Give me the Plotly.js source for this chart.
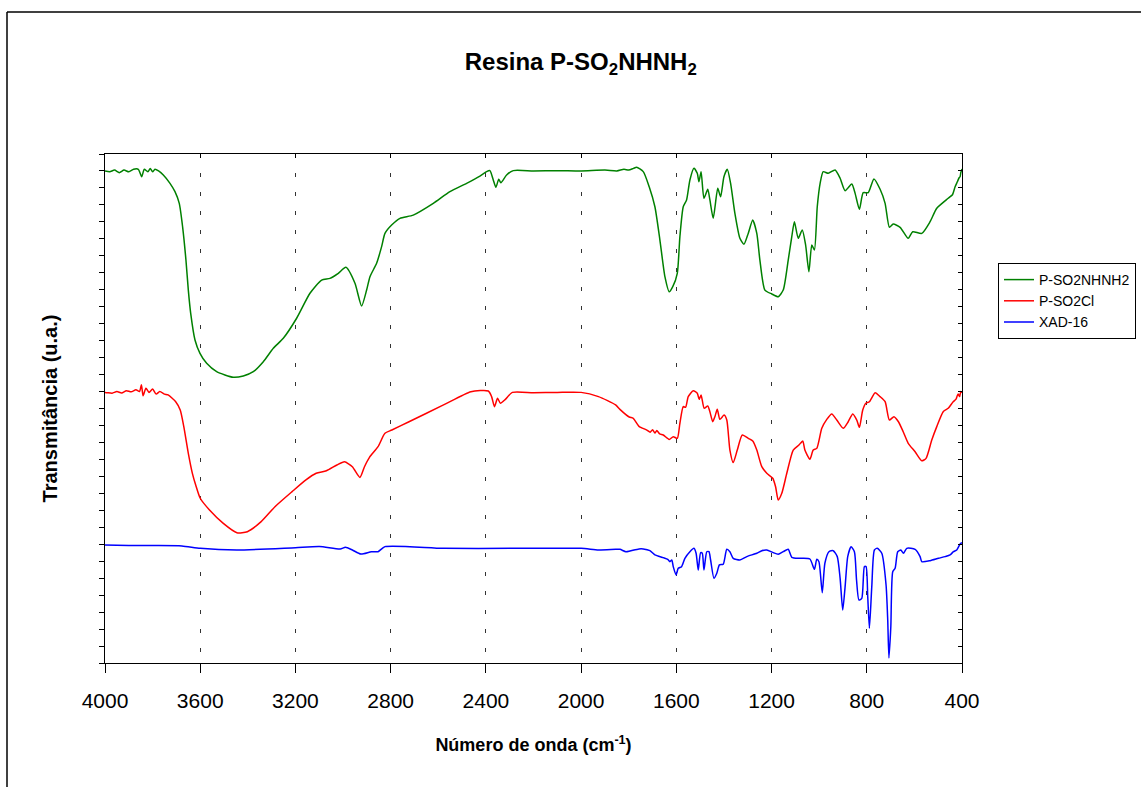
<!DOCTYPE html>
<html>
<head>
<meta charset="utf-8">
<script src="https://cdn.plot.ly/plotly-3.0.1.min.js"></script>
<style>
  html, body { margin: 0; padding: 0; background: #fff; }
  #chart { width: 1141px; height: 787px; }
</style>
</head>
<body>
<div id="chart"></div>
<script>
// FTIR spectra: [wavenumber (cm-1), transmittance (arbitrary, offset per sample)]
const pSO2NHNH2 = [
  [4000,29.00],[3980,28.95],[3960,29.05],[3940,28.90],[3920,29.05],[3900,28.95],[3880,29.10],[3860,29.10],
  [3846,28.66],[3835,29.10],[3820,28.95],[3810,29.15],[3800,28.95],[3790,29.10],[3775,29.00],[3755,28.76],
  [3727,28.27],[3706,27.78],[3688,27.09],[3674,25.71],[3660,23.75],[3650,21.98],[3640,20.61],[3622,19.04],
  [3601,18.25],[3573,17.66],[3531,17.17],[3461,16.84],[3419,16.92],[3377,17.17],[3335,17.76],[3293,18.55],
  [3251,19.14],[3195,20.32],[3139,21.79],[3090,22.57],[3055,22.67],[3020,22.97],[2988,23.32],[2950,22.38],
  [2922,21.04],[2901,21.98],[2887,22.77],[2859,23.56],[2838,24.54],[2824,25.32],[2796,25.81],[2761,26.21],
  [2705,26.40],[2621,27.09],[2551,27.78],[2481,28.27],[2425,28.70],[2397,28.96],[2383,29.02],[2369,28.47],
  [2358,28.04],[2346,28.51],[2337,28.31],[2313,28.76],[2285,29.02],[2200,29.00],[2100,29.02],[2000,29.00],
  [1900,29.05],[1850,29.00],[1820,29.10],[1800,29.05],[1780,29.15],[1767,29.22],[1739,28.96],[1714,28.07],
  [1690,26.89],[1669,24.93],[1648,22.77],[1630,21.88],[1615,22.18],[1596,22.97],[1585,25.13],[1571,26.89],
  [1557,27.29],[1543,28.47],[1526,29.16],[1512,28.86],[1505,28.37],[1496,28.96],[1484,27.39],[1468,27.92],
  [1459,27.29],[1445,26.21],[1426,27.98],[1414,27.48],[1400,28.66],[1386,29.10],[1372,28.27],[1354,26.50],
  [1333,25.03],[1316,24.68],[1298,25.32],[1279,26.11],[1262,25.32],[1249,23.75],[1228,21.98],[1199,21.75],
  [1172,21.59],[1151,21.98],[1130,23.75],[1115,25.13],[1104,26.01],[1088,25.03],[1071,25.52],[1057,24.64],
  [1043,23.06],[1031,24.64],[1020,24.34],[1008,26.89],[996,28.27],[983,28.96],[962,28.86],[933,29.06],
  [912,28.57],[891,27.84],[863,28.23],[849,27.68],[831,26.74],[815,27.72],[794,27.72],[770,28.53],
  [744,27.92],[723,27.09],[705,25.68],[689,25.87],[660,25.68],[626,25.03],[607,25.42],[569,25.32],
  [534,26.01],[506,26.80],[458,27.39],[440,27.60],[429,28.07],[420,28.35],[412,28.60],[408,28.66],
  [405,28.90],[400,29.12]
];

const pSO2Cl = [
  [4000,15.95],[3990,15.93],[3970,15.90],[3950,16.00],[3930,15.92],[3910,16.05],[3890,15.98],[3870,16.10],
  [3855,16.00],[3847,16.40],[3840,15.75],[3828,16.20],[3815,15.95],[3800,16.15],[3785,15.85],[3770,16.00],
  [3750,15.85],[3735,15.80],[3703,15.40],[3684,14.91],[3669,13.93],[3650,12.36],[3633,11.18],[3619,10.49],
  [3600,9.71],[3561,9.02],[3503,8.23],[3446,7.68],[3402,7.74],[3344,8.33],[3286,9.21],[3214,10.10],
  [3156,10.79],[3113,11.18],[3070,11.33],[3026,11.67],[2994,11.86],[2961,11.57],[2929,10.94],[2910,11.57],
  [2889,12.12],[2853,12.75],[2824,13.54],[2795,13.73],[2723,14.22],[2578,15.21],[2463,15.99],[2390,16.03],
  [2376,15.70],[2364,15.11],[2351,15.60],[2339,15.31],[2318,15.54],[2289,15.95],[2200,15.93],[2100,15.95],
  [2000,15.95],[1927,15.70],[1855,15.21],[1837,14.95],[1798,14.50],[1781,14.42],[1757,13.95],[1724,13.73],
  [1710,13.60],[1700,13.75],[1690,13.55],[1682,13.70],[1670,13.50],[1655,13.44],[1630,13.18],[1613,13.34],
  [1596,13.24],[1585,14.13],[1571,15.11],[1561,15.07],[1550,15.70],[1529,16.05],[1512,15.90],[1504,15.54],
  [1496,15.80],[1483,15.01],[1468,15.15],[1459,14.81],[1447,14.22],[1438,14.52],[1428,14.95],[1417,14.36],
  [1399,14.62],[1388,14.32],[1375,12.55],[1361,11.81],[1344,12.55],[1323,13.44],[1298,13.24],[1279,13.08],
  [1262,12.55],[1241,11.57],[1220,11.18],[1195,10.89],[1183,10.39],[1172,9.61],[1157,10.00],[1136,11.18],
  [1109,12.55],[1085,12.85],[1069,13.08],[1060,12.55],[1039,12.01],[1025,12.55],[1010,12.65],[989,13.83],
  [968,14.36],[947,14.68],[926,14.32],[899,13.83],[878,14.22],[859,14.68],[842,14.32],[831,13.89],
  [817,14.91],[804,15.31],[789,15.40],[765,15.93],[744,15.70],[723,15.40],[705,14.32],[686,14.52],
  [667,14.22],[647,13.63],[626,12.95],[597,12.45],[569,11.92],[551,12.06],[527,13.14],[506,13.93],
  [479,14.81],[458,15.01],[437,15.40],[425,15.55],[420,15.75],[416,15.85],[410,15.70],[405,16.00],
  [400,15.93]
];

const xad16 = [
  [4000,6.95],[3900,6.93],[3800,6.92],[3677,6.90],[3600,6.76],[3446,6.66],[3200,6.80],[3099,6.86],
  [3012,6.72],[2990,6.82],[2961,6.66],[2925,6.42],[2881,6.56],[2853,6.56],[2824,6.86],[2578,6.76],
  [2289,6.76],[2000,6.76],[1927,6.66],[1855,6.70],[1837,6.70],[1812,6.56],[1795,6.60],[1757,6.72],
  [1739,6.72],[1711,6.62],[1690,6.37],[1655,6.21],[1636,6.11],[1627,5.97],[1619,6.07],[1613,5.68],
  [1601,5.19],[1592,5.58],[1578,5.68],[1564,6.17],[1543,6.56],[1526,6.76],[1517,6.47],[1508,5.48],
  [1498,6.50],[1491,6.47],[1484,5.48],[1472,6.56],[1463,6.56],[1456,6.07],[1442,4.99],[1430,5.29],
  [1419,5.78],[1403,5.82],[1388,6.70],[1375,6.56],[1361,6.17],[1333,6.07],[1304,6.27],[1262,6.47],
  [1241,6.62],[1220,6.66],[1195,6.52],[1172,6.41],[1151,6.56],[1130,6.70],[1115,6.23],[1080,6.17],
  [1039,6.13],[1020,5.52],[1010,6.11],[1001,5.97],[987,4.14],[976,5.88],[959,6.56],[941,6.62],
  [924,6.27],[912,4.99],[901,3.12],[891,4.50],[880,6.27],[866,6.85],[852,6.56],[843,4.89],
  [833,3.71],[821,3.81],[810,5.68],[803,5.68],[796,3.91],[789,2.05],[779,4.50],[768,6.66],
  [756,6.76],[737,6.47],[719,4.60],[712,2.53],[707,0.30],[699,2.14],[691,5.38],[681,5.58],
  [670,6.56],[657,6.66],[646,6.47],[632,6.76],[597,6.70],[576,6.27],[569,5.97],[534,6.03],
  [499,6.17],[471,6.27],[450,6.37],[436,6.56],[422,6.66],[408,7.01],[400,7.09]
];

const seriesNames = ['P-SO2NHNH2', 'P-SO2Cl', 'XAD-16'];
const seriesColors = ['#008000', '#ff0000', '#0000ff'];
const wavenumberTicks = [4000, 3600, 3200, 2800, 2400, 2000, 1600, 1200, 800, 400];

const FONT = 'Liberation Sans, Arial, Helvetica, sans-serif';

const traces = [pSO2NHNH2, pSO2Cl, xad16].map((s, i) => ({
  type: 'scatter',
  mode: 'lines',
  name: seriesNames[i],
  x: s.map(p => p[0]),
  y: s.map(p => p[1]),
  line: { color: seriesColors[i], width: 1.5, shape: 'spline', smoothing: 0.6 },
  hoverinfo: 'skip'
}));

// helper trace so the mirrored top/right axes get their own subplot
traces.push({
  type: 'scatter', mode: 'lines', x: [], y: [],
  xaxis: 'x2', yaxis: 'y2', showlegend: false, hoverinfo: 'skip'
});

// plot area in pixels, used to place the outer frame in paper units
const L = 105, T = 154, W = 857, H = 509, FW = 1141, FH = 787;
const px = v => (v - L) / W;
const py = v => (T + H - v) / H;

const layout = {
  width: FW,
  height: FH,
  margin: { l: L, r: FW - L - W, t: T, b: FH - T - H, pad: 0, autoexpand: false },
  paper_bgcolor: '#fff',
  plot_bgcolor: '#fff',
  font: { family: FONT, color: '#000' },
  showlegend: true,
  title: {
    text: '<b>Resina P-SO<sub>2</sub>NHNH<sub>2</sub></b>',
    font: { family: FONT, size: 24, color: '#000' },
    xref: 'container', yref: 'container',
    x: 0.509, y: 1 - 62 / FH,
    xanchor: 'center', yanchor: 'middle'
  },
  xaxis: {
    range: [4000, 400],
    tickvals: wavenumberTicks,
    ticktext: wavenumberTicks.map(String),
    ticks: 'outside', ticklen: 9, tickwidth: 1, tickcolor: '#000',
    ticklabelstandoff: 10,
    tickfont: { family: FONT, size: 21, color: '#000' },
    showline: true, linecolor: '#000', linewidth: 1,
    showgrid: true, gridcolor: '#333', gridwidth: 1, griddash: '4px,15px',
    zeroline: false,
    automargin: false,
    title: {
      text: '<b>Número de onda (cm<sup>-1</sup>)</b>',
      font: { family: FONT, size: 18, color: '#000' },
      standoff: 27
    }
  },
  yaxis: {
    range: [0, 30],
    dtick: 1, tick0: 0,
    ticks: 'outside', ticklen: 5, tickwidth: 1, tickcolor: '#000',
    showticklabels: false,
    showline: true, linecolor: '#000', linewidth: 1,
    showgrid: false, zeroline: false,
    automargin: false,
    title: {
      text: '<b>Transmitância (u.a.)</b>',
      font: { family: FONT, size: 20, color: '#000' },
      standoff: 36
    }
  },
  xaxis2: {
    overlaying: 'x', side: 'top', anchor: 'y2',
    range: [4000, 400], tickvals: wavenumberTicks,
    ticks: 'inside', ticklen: 4, tickcolor: '#000',
    showticklabels: false, showgrid: false, zeroline: false,
    showline: true, linecolor: '#000', linewidth: 1
  },
  yaxis2: {
    overlaying: 'y', side: 'right', anchor: 'x2',
    range: [0, 30], dtick: 1, tick0: 0,
    ticks: 'inside', ticklen: 4, tickcolor: '#000',
    showticklabels: false, showgrid: false, zeroline: false,
    showline: true, linecolor: '#000', linewidth: 1
  },
  legend: {
    xref: 'container', yref: 'container',
    x: 998 / FW, y: 1 - 263 / FH,
    xanchor: 'left', yanchor: 'top',
    bgcolor: '#fff', bordercolor: '#000', borderwidth: 1,
    font: { family: FONT, size: 14, color: '#000' },
    tracegroupgap: 0
  },
  shapes: [
    // outer chart frame (top and left edges)
    { type: 'line', xref: 'paper', yref: 'paper',
      x0: px(7), y0: py(12), x1: px(1150), y1: py(12),
      line: { color: '#000', width: 1.5 } },
    { type: 'line', xref: 'paper', yref: 'paper',
      x0: px(7), y0: py(12), x1: px(7), y1: py(800),
      line: { color: '#000', width: 1.5 } }
  ]
};

Plotly.newPlot('chart', traces, layout, { staticPlot: true, displayModeBar: false });
</script>
</body>
</html>
